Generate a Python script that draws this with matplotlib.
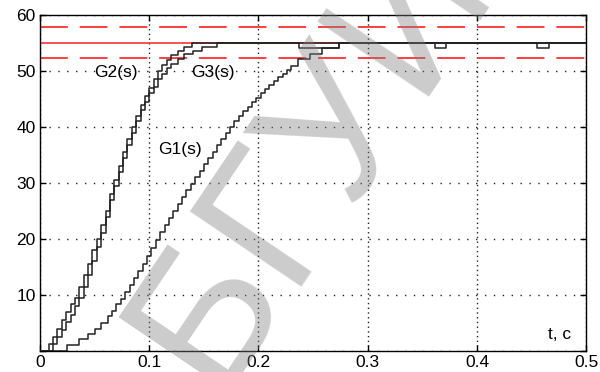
import numpy as np
import matplotlib
matplotlib.use("Agg")
from matplotlib import pyplot as plt

plt.rcParams['font.family'] = ['Liberation Sans', 'DejaVu Sans']

# step responses (t in s, output value)
t_g1 = [0.0, 0.025, 0.036, 0.044, 0.050, 0.056, 0.062, 0.066, 0.070, 0.074, 0.078,
        0.082, 0.086, 0.090, 0.094, 0.098, 0.102, 0.106, 0.110, 0.114, 0.118, 0.122,
        0.126, 0.130, 0.134, 0.138, 0.142, 0.146, 0.150, 0.154, 0.158, 0.162, 0.166,
        0.170, 0.174, 0.178, 0.182, 0.186, 0.190, 0.194, 0.198, 0.202, 0.206, 0.210,
        0.214, 0.218, 0.222, 0.226, 0.230, 0.236, 0.247, 0.258, 0.274, 0.5]
y_g1 = [0.0, 1.1, 2.2, 3.0, 4.0, 5.0, 6.2, 7.2, 8.3, 9.3, 10.5,
        11.8, 13.0, 14.3, 15.6, 17.0, 18.4, 19.8, 21.2, 22.5, 23.8, 25.0,
        26.3, 27.5, 28.7, 29.8, 31.0, 32.2, 33.4, 34.5, 35.6, 36.7, 37.8,
        38.9, 40.0, 41.0, 41.9, 42.8, 43.6, 44.4, 45.2, 46.0, 46.8, 47.5,
        48.2, 48.9, 49.5, 50.1, 50.8, 52.1, 53.0, 54.0, 55.0, 55.0]

t_g2 = [0.0, 0.008, 0.012, 0.016, 0.020, 0.024, 0.028, 0.032, 0.036, 0.040, 0.044,
        0.048, 0.052, 0.056, 0.060, 0.064, 0.068, 0.072, 0.076, 0.080, 0.084, 0.088,
        0.092, 0.096, 0.100, 0.104, 0.108, 0.112, 0.116, 0.120, 0.126, 0.132, 0.139, 0.5]
y_g2 = [0.0, 1.2, 2.5, 4.0, 5.5, 7.0, 8.3, 9.5, 11.5, 13.5, 15.5,
        18.0, 20.0, 22.5, 25.0, 28.0, 30.5, 33.0, 35.5, 37.8, 40.0, 42.0,
        44.0, 45.5, 47.0, 48.5, 50.0, 51.0, 52.0, 52.8, 53.5, 54.2, 55.0, 55.0]

t_g3 = [0.0, 0.012, 0.016, 0.020, 0.024, 0.028, 0.032, 0.036, 0.040, 0.044, 0.048,
        0.052, 0.056, 0.060, 0.064, 0.068, 0.072, 0.076, 0.080, 0.084, 0.088, 0.092,
        0.096, 0.100, 0.104, 0.108, 0.112, 0.116, 0.120, 0.126, 0.132, 0.140, 0.148,
        0.162, 0.237, 0.274, 0.362, 0.372, 0.455, 0.466, 0.5]
y_g3 = [0.0, 1.2, 2.5, 3.8, 5.2, 6.5, 8.0, 9.5, 11.5, 13.5, 16.0,
        18.5, 21.0, 24.0, 27.0, 29.5, 32.0, 34.5, 36.8, 39.0, 41.0, 43.0,
        44.5, 46.0, 47.2, 48.5, 49.5, 50.5, 51.3, 52.2, 53.0, 53.6, 54.2,
        55.0, 54.0, 55.0, 54.0, 55.0, 54.0, 55.0, 55.0]

y_set = 55.0
band_hi = 57.75
band_lo = 52.25

labels = ["G1(s)", "G2(s)", "G3(s)"]
label_pos = [(0.128, 35.9), (0.069, 49.8), (0.158, 49.8)]

fig = plt.figure(figsize=(6.0, 3.72), dpi=100)
ax = fig.add_axes([0.0667, 0.0565, 0.9103, 0.9035])

ax.axhline(y_set, color='#ff3030', lw=1.2, zorder=2)
for yb in (band_hi, band_lo):
    ax.axhline(yb, color='#ff3030', lw=1.3, linestyle=(0, (15.4, 6.6)), zorder=2)

for t, y in ((t_g1, y_g1), (t_g2, y_g2), (t_g3, y_g3)):
    ax.plot(t, y, drawstyle='steps-post', color='#222222', lw=1.1, zorder=3)

for lab, (x, y) in zip(labels, label_pos):
    ax.text(x, y, lab, fontsize=12.5, ha='center', va='center', zorder=4)
ax.text(0.476, 2.9, "t, c", fontsize=12.5, ha='center', va='center')

ax.set_xlim(0, 0.5)
ax.set_ylim(0, 60)
ax.set_xticks([0, 0.1, 0.2, 0.3, 0.4, 0.5])
ax.set_xticklabels(['0', '0.1', '0.2', '0.3', '0.4', '0.5'])
ax.set_yticks([0, 10, 20, 30, 40, 50, 60])
ax.set_yticklabels(['', '10', '20', '30', '40', '50', '60'])
ax.tick_params(direction='in', length=4, width=1, top=True, right=True,
               labelsize=12.5, pad=3, colors='black')
# vertical grid lines have denser dots than horizontal ones in the original
ax.xaxis.grid(True, color='#222222', linestyle=(0, (1, 2.4)), lw=1.0)
ax.yaxis.grid(True, color='#222222', linestyle=(0, (1, 5.4)), lw=1.0)
for s in ax.spines.values():
    s.set_linewidth(1.0)

# watermark
fig.text(0.58, 0.72, "БГУИР", fontsize=140, color='gray', alpha=0.4,
         rotation=56, rotation_mode='anchor', ha='center', va='center', zorder=10)

fig.savefig("out.png", dpi=100)
